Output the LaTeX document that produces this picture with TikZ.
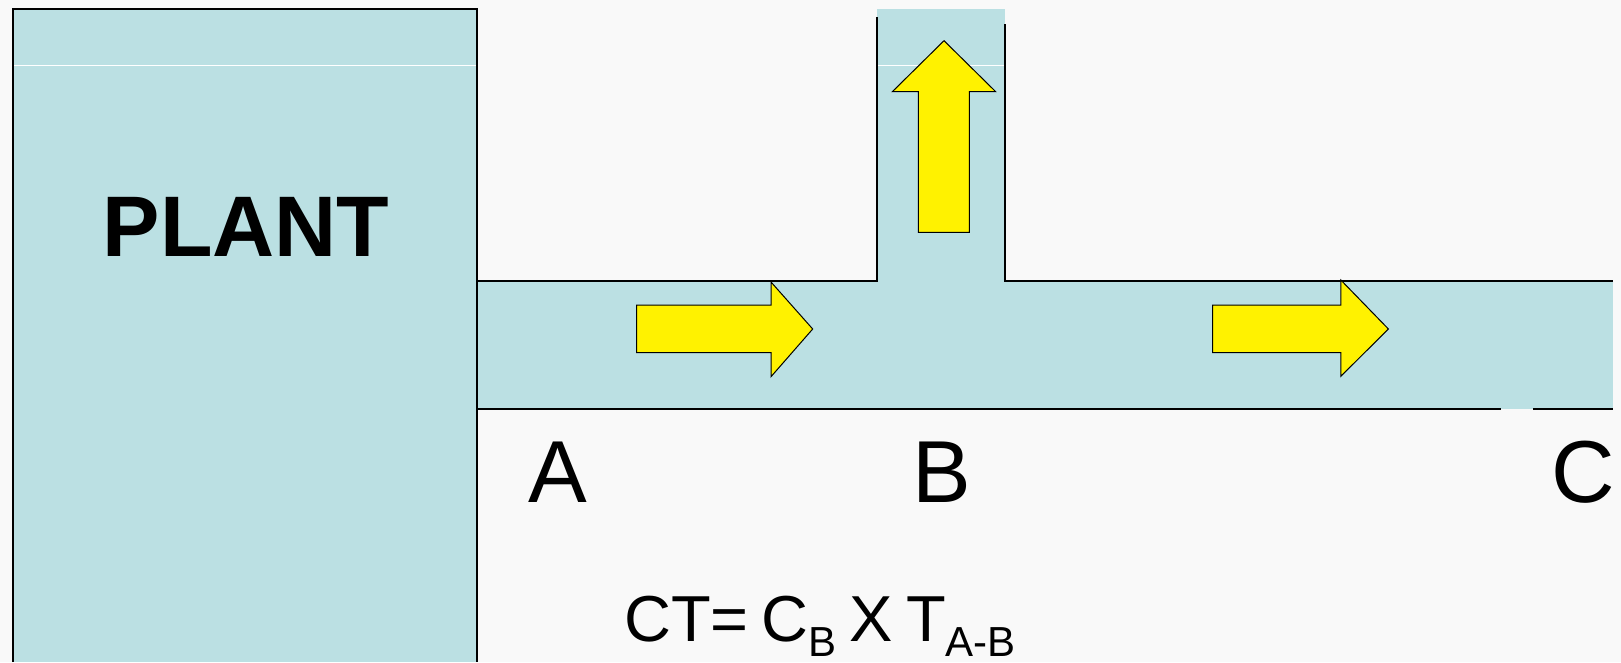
\documentclass[tikz,border=0pt]{standalone}
\usepackage{fontspec}
\setmainfont{Liberation Sans}
\definecolor{bg}{HTML}{F9F9F9}
\definecolor{pipe}{HTML}{BBE0E3}
\newcommand{\subtxt}[1]{\raisebox{-15pt}{\fontsize{42}{46}\selectfont #1}}
\begin{document}
\begin{tikzpicture}[x=1pt,y=-1pt,
  wall/.style={line width=2pt,black},
  flow/.style={fill=yellow,draw=black,line width=1pt,line join=miter},
  seam/.style={white,line width=1pt},
  big/.style={inner sep=0pt,font=\fontsize{88}{90}\selectfont},
  formula/.style={inner sep=0pt,font=\fontsize{65}{70}\selectfont}]
\fill[bg] (0,0) rectangle (1621,662);
\useasboundingbox (0,0) rectangle (1621,662);
% blue areas
\fill[pipe] (12.5,8.7) rectangle (476.7,662);
\fill[pipe] (476.7,281) rectangle (1612.7,409);
\fill[pipe] (877,9) rectangle (1005,281);
\draw[seam] (13.5,65) -- (475.7,65);
\draw[seam] (878,65) -- (1004,65);
% walls
\draw[wall] (12.5,662) -- (12.5,8.7) -- (476.7,8.7) -- (476.7,662);
\draw[wall] (476.7,281) -- (877,281) -- (877,17);
\draw[wall] (1005,24) -- (1005,281) -- (1612.7,281);
\draw[wall] (476.7,409) -- (1500.7,409);
\draw[wall] (1533,409) -- (1612.7,409);
% flow arrows
\draw[flow] (636.7,305) -- (771,305) -- (771,282) -- (812.7,329) -- (771,376.7) -- (771,352.7) -- (636.7,352.7) -- cycle;
\draw[flow] (1212.6,305) -- (1340.8,305) -- (1340.8,280) -- (1388.4,329) -- (1340.8,376.3) -- (1340.8,352.5) -- (1212.6,352.5) -- cycle;
\draw[flow] (918.3,232.3) -- (918.3,91.7) -- (892.3,91.7) -- (944,40.7) -- (995.7,91.7) -- (969.3,91.7) -- (969.3,232.3) -- cycle;
% labels
\node[inner sep=0pt,anchor=base,font=\fontsize{86}{90}\selectfont\bfseries] (plant) at (246,256.2) {PLANT};
\node[big,anchor=base] (A) at (557.5,502) {A};
\node[big,anchor=base] (B) at (941.5,502) {B};
\node[big,anchor=base] (C) at (1583.5,502) {C};
\node[formula,anchor=base west] (ct) at (624,641.7) {CT=\hspace{13pt}C\subtxt{B}\hspace{13pt}X\hspace{13pt}T\subtxt{A-B}};
\end{tikzpicture}
\end{document}
